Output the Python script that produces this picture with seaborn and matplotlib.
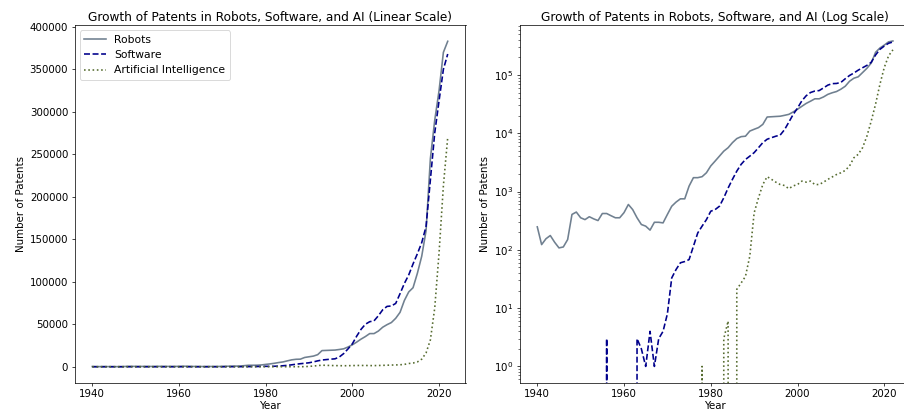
"""Patent growth in robots, software and AI: linear vs log scale."""

import matplotlib

matplotlib.use("Agg")
import matplotlib.pyplot as plt
import numpy as np
import seaborn as sb

YEARS = np.arange(1940, 2023)

ROBOTS = [
    248, 123, 155, 176, 135, 108, 112, 150, 405, 445,
    355, 330, 370, 340, 318, 420, 420, 385, 355, 355,
    435, 600, 490, 355, 272, 255, 218, 297, 297, 290,
    405, 560, 660, 750, 750, 1240, 1730, 1730, 1800, 2100,
    2750, 3330, 4050, 4930, 5650, 6900, 8100, 8750, 8900, 10900,
    11700, 12500, 14200, 19000, 19200, 19400, 19600, 20300, 21100, 23200,
    25800, 29000, 32500, 35500, 39000, 39000, 42000, 46500, 49500, 52000,
    57000, 64000, 78000, 88000, 93000, 110000, 130000, 160000, 245000, 290000,
    325000, 370000, 383000,
]

SOFTWARE = [
    0, 0, 0, 0, 0, 0, 0, 0, 0, 0,
    0, 0, 0, 0, 0, 0, 3, 0, 0, 0,
    0, 0, 0, 3, 2, 1, 4, 1, 3, 4,
    8, 33, 46, 60, 63, 68, 115, 195, 255, 330,
    460, 490, 560, 780, 1150, 1620, 2240, 2930, 3550, 4050,
    4650, 5650, 6900, 7900, 8400, 8900, 9300, 11500, 15500, 21000,
    27000, 36000, 44000, 50000, 53000, 54000, 60000, 67000, 71000, 71500,
    74500, 86000, 98000, 108000, 121000, 133000, 146000, 165000, 220000, 275000,
    313000, 350000, 368000,
]

AI = [
    0, 0, 0, 0, 0, 0, 0, 0, 0, 0,
    0, 0, 0, 0, 0, 0, 0, 0, 0, 0,
    0, 0, 0, 0, 0, 0, 0, 0, 0, 0,
    0, 0, 0, 0, 0, 0, 0, 0, 1, 0,
    0, 0, 0, 3, 6, 0, 21, 27, 35, 78,
    430, 780, 1320, 1800, 1620, 1450, 1320, 1270, 1120, 1250,
    1320, 1510, 1450, 1510, 1320, 1320, 1450, 1620, 1780, 1960,
    2100, 2300, 2750, 3800, 4350, 5650, 8900, 16200, 31600, 69000,
    134000, 213000, 270000,
]

SERIES = [
    ("Robots", ROBOTS, "slategray", "-"),
    ("Software", SOFTWARE, "darkblue", "--"),
    ("Artificial Intelligence", AI, "darkolivegreen", ":"),
]

plt.rcParams["font.size"] = 11.5
plt.rcParams["axes.titlesize"] = 13.6
plt.rcParams["legend.fontsize"] = 12

DPI = 64.6
fig = plt.figure(figsize=(904 / DPI, 413 / DPI), dpi=DPI)
ax_lin = fig.add_axes([74.5 / 904, 30 / 413, 391 / 904, 358 / 413])
ax_log = fig.add_axes([519.5 / 904, 30.3 / 413, 391.2 / 904, 358 / 413])

for ax in (ax_lin, ax_log):
    for name, values, color, style in SERIES:
        sb.lineplot(
            x=YEARS,
            y=values,
            ax=ax,
            color=color,
            linestyle=style,
            linewidth=1.8,
            label=name if ax is ax_lin else None,
        )
    ax.set_xlabel("Year", labelpad=2)
    ax.set_ylabel("Number of Patents")

ax_lin.set_title("Growth of Patents in Robots, Software, and AI (Linear Scale)", pad=4)
ax_lin.legend(loc="upper left")

ax_log.set_yscale("log")
ax_log.set_title("Growth of Patents in Robots, Software, and AI (Log Scale)", pad=4)
if ax_log.get_legend() is not None:
    ax_log.get_legend().remove()

fig.savefig("out.png", dpi=DPI)
plt.close(fig)
